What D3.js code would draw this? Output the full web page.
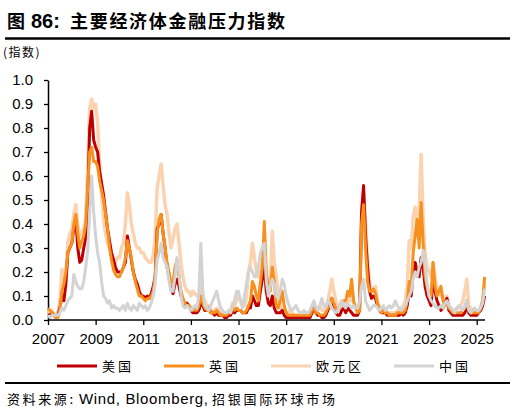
<!DOCTYPE html>
<html>
<head>
<meta charset="utf-8">
<script src="https://cdn.jsdelivr.net/npm/d3@7"></script>
<style>
  body { margin: 0; background: #fff; }
  svg { display: block; }
  .tick text { font-family: "Liberation Sans", Arial, sans-serif; font-size: 15px; fill: #000; }
  .cjk { font-family: "Noto Sans CJK SC", sans-serif; }
  .latin { font-family: "Liberation Sans", Arial, sans-serif; }
</style>
</head>
<body>
<svg id="chart" width="516" height="416"></svg>
<script>
// monthly readings, Jan 2007 .. May 2025
const startYear = 2007;
const seriesNames = ["美国", "英国", "欧元区", "中国"];
const seriesColors = ["#c00000", "#f7901e", "#fbd3b0", "#d3d3d3"];
const xTicks = [2007, 2009, 2011, 2013, 2015, 2017, 2019, 2021, 2023, 2025];
const yTicks = [0, 0.1, 0.2, 0.3, 0.4, 0.5, 0.6, 0.7, 0.8, 0.9, 1.0];

const usValues = [
  0.02,0.02,0.03,0.02,0.01,0.02,0.05,0.10,0.08,0.15,0.28,0.30,
  0.32,0.38,0.42,0.30,0.24,0.25,0.30,0.34,0.50,0.80,0.87,0.75,
  0.72,0.70,0.62,0.57,0.52,0.45,0.38,0.33,0.28,0.25,0.22,0.20,
  0.20,0.20,0.22,0.24,0.35,0.30,0.25,0.20,0.17,0.15,0.12,0.10,
  0.10,0.09,0.10,0.09,0.11,0.14,0.18,0.38,0.40,0.44,0.36,0.30,
  0.22,0.18,0.13,0.11,0.15,0.17,0.14,0.10,0.08,0.06,0.07,0.06,
  0.04,0.03,0.03,0.03,0.04,0.07,0.06,0.04,0.04,0.05,0.03,0.03,
  0.02,0.03,0.02,0.02,0.02,0.01,0.01,0.02,0.02,0.04,0.03,0.04,
  0.04,0.04,0.03,0.03,0.03,0.05,0.05,0.10,0.08,0.06,0.06,0.12,
  0.17,0.22,0.12,0.07,0.06,0.10,0.05,0.03,0.03,0.03,0.04,0.02,
  0.01,0.01,0.01,0.01,0.01,0.01,0.01,0.01,0.01,0.01,0.01,0.01,
  0.01,0.03,0.05,0.03,0.02,0.02,0.01,0.01,0.02,0.04,0.06,0.09,
  0.06,0.03,0.02,0.02,0.04,0.05,0.03,0.05,0.04,0.03,0.02,0.02,
  0.02,0.04,0.45,0.56,0.35,0.22,0.12,0.09,0.10,0.09,0.06,0.04,
  0.03,0.03,0.03,0.02,0.02,0.02,0.02,0.02,0.02,0.02,0.03,0.02,
  0.03,0.06,0.12,0.10,0.20,0.24,0.20,0.18,0.26,0.22,0.14,0.10,
  0.08,0.06,0.18,0.12,0.08,0.06,0.04,0.05,0.07,0.09,0.04,0.03,
  0.02,0.02,0.02,0.02,0.02,0.02,0.03,0.06,0.03,0.02,0.02,0.02,
  0.02,0.03,0.04,0.06,0.10
];

const ukValues = [
  0.05,0.04,0.03,0.02,0.01,0.01,0.04,0.12,0.15,0.20,0.28,0.30,
  0.32,0.40,0.44,0.36,0.30,0.33,0.35,0.40,0.55,0.70,0.72,0.66,
  0.66,0.64,0.58,0.54,0.50,0.44,0.38,0.30,0.25,0.21,0.19,0.18,
  0.18,0.20,0.22,0.26,0.33,0.30,0.26,0.20,0.16,0.13,0.10,0.10,
  0.09,0.08,0.09,0.09,0.10,0.12,0.18,0.36,0.42,0.44,0.36,0.30,
  0.24,0.20,0.15,0.16,0.22,0.25,0.18,0.12,0.09,0.07,0.06,0.06,
  0.05,0.04,0.05,0.04,0.06,0.10,0.07,0.05,0.04,0.04,0.03,0.03,
  0.03,0.04,0.03,0.02,0.02,0.02,0.02,0.03,0.03,0.05,0.04,0.05,
  0.04,0.04,0.03,0.03,0.04,0.06,0.08,0.16,0.14,0.10,0.08,0.16,
  0.22,0.41,0.20,0.14,0.12,0.22,0.16,0.06,0.05,0.08,0.12,0.06,
  0.03,0.02,0.02,0.02,0.02,0.02,0.02,0.02,0.02,0.02,0.02,0.02,
  0.02,0.04,0.05,0.03,0.03,0.02,0.02,0.02,0.03,0.05,0.06,0.09,
  0.07,0.05,0.04,0.06,0.07,0.08,0.08,0.12,0.10,0.17,0.08,0.05,
  0.03,0.04,0.40,0.48,0.30,0.16,0.12,0.12,0.13,0.11,0.07,0.05,
  0.03,0.04,0.03,0.03,0.02,0.02,0.02,0.02,0.03,0.03,0.03,0.03,
  0.04,0.08,0.16,0.14,0.28,0.35,0.42,0.30,0.49,0.32,0.18,0.14,
  0.10,0.10,0.24,0.14,0.10,0.12,0.14,0.08,0.06,0.07,0.05,0.04,
  0.03,0.03,0.03,0.03,0.03,0.04,0.05,0.08,0.04,0.03,0.03,0.03,
  0.03,0.03,0.05,0.08,0.18
];

const euroValues = [
  0.04,0.03,0.04,0.02,0.02,0.03,0.08,0.21,0.15,0.18,0.32,0.36,
  0.38,0.44,0.48,0.40,0.35,0.36,0.38,0.42,0.62,0.88,0.92,0.88,
  0.90,0.82,0.65,0.52,0.42,0.36,0.32,0.30,0.28,0.25,0.24,0.26,
  0.26,0.30,0.32,0.40,0.53,0.48,0.40,0.36,0.32,0.30,0.30,0.28,
  0.28,0.26,0.25,0.24,0.24,0.27,0.35,0.55,0.60,0.65,0.56,0.48,
  0.44,0.36,0.30,0.34,0.38,0.40,0.32,0.24,0.18,0.14,0.12,0.12,
  0.10,0.12,0.11,0.10,0.10,0.14,0.10,0.08,0.06,0.06,0.04,0.04,
  0.04,0.05,0.04,0.03,0.03,0.02,0.02,0.03,0.04,0.07,0.06,0.08,
  0.10,0.08,0.06,0.06,0.10,0.20,0.24,0.32,0.26,0.20,0.18,0.20,
  0.24,0.26,0.12,0.10,0.16,0.37,0.24,0.18,0.12,0.06,0.04,0.03,
  0.03,0.03,0.04,0.03,0.02,0.02,0.02,0.02,0.02,0.02,0.02,0.02,
  0.02,0.03,0.04,0.03,0.05,0.06,0.04,0.04,0.05,0.08,0.12,0.17,
  0.12,0.08,0.06,0.05,0.08,0.06,0.08,0.10,0.08,0.12,0.06,0.05,
  0.04,0.06,0.45,0.53,0.40,0.25,0.16,0.12,0.12,0.14,0.08,0.05,
  0.04,0.04,0.04,0.03,0.03,0.03,0.03,0.03,0.04,0.04,0.05,0.06,
  0.08,0.14,0.33,0.30,0.43,0.47,0.40,0.45,0.69,0.42,0.28,0.22,
  0.20,0.18,0.24,0.18,0.13,0.12,0.10,0.10,0.08,0.10,0.06,0.05,
  0.04,0.04,0.05,0.05,0.06,0.08,0.12,0.17,0.06,0.05,0.04,0.04,
  0.03,0.04,0.05,0.08,0.15
];

const chinaValues = [
  0.02,0.01,0.02,0.02,0.02,0.02,0.03,0.05,0.04,0.06,0.08,0.09,
  0.10,0.19,0.16,0.14,0.13,0.13,0.16,0.22,0.29,0.45,0.60,0.45,
  0.35,0.28,0.24,0.16,0.10,0.09,0.07,0.08,0.05,0.06,0.05,0.05,
  0.04,0.05,0.06,0.04,0.07,0.05,0.04,0.06,0.05,0.04,0.07,0.06,
  0.05,0.06,0.04,0.05,0.07,0.10,0.15,0.25,0.28,0.32,0.26,0.24,
  0.22,0.16,0.12,0.12,0.18,0.26,0.20,0.10,0.06,0.05,0.06,0.05,
  0.04,0.05,0.06,0.05,0.10,0.32,0.12,0.06,0.05,0.04,0.06,0.08,
  0.10,0.12,0.08,0.05,0.04,0.03,0.03,0.04,0.03,0.06,0.08,0.12,
  0.12,0.08,0.05,0.10,0.15,0.20,0.22,0.20,0.18,0.18,0.22,0.28,
  0.30,0.32,0.16,0.10,0.14,0.17,0.15,0.10,0.09,0.12,0.17,0.15,
  0.10,0.07,0.05,0.04,0.05,0.06,0.04,0.03,0.03,0.04,0.03,0.03,
  0.04,0.06,0.08,0.05,0.04,0.06,0.09,0.06,0.05,0.08,0.07,0.05,
  0.04,0.03,0.04,0.06,0.08,0.06,0.05,0.07,0.06,0.05,0.06,0.05,
  0.05,0.08,0.14,0.17,0.08,0.06,0.04,0.05,0.06,0.06,0.05,0.04,
  0.05,0.06,0.04,0.05,0.06,0.05,0.06,0.08,0.06,0.05,0.04,0.05,
  0.06,0.08,0.10,0.12,0.17,0.20,0.18,0.22,0.24,0.29,0.23,0.15,
  0.10,0.08,0.07,0.06,0.05,0.05,0.06,0.05,0.07,0.08,0.06,0.05,
  0.04,0.03,0.05,0.06,0.05,0.04,0.06,0.08,0.04,0.03,0.04,0.05,
  0.04,0.04,0.05,0.07,0.13
];

const allSeries = [usValues, ukValues, euroValues, chinaValues];
// euro drawn first so it sits underneath, China last
const drawOrder = [2, 0, 1, 3];

function createChart() {
  const svg = d3.select("#chart");
  const left = 48;
  const right = 485;
  const top = 80;
  const bottom = 320;

  // title: CJK parts spaced out, number in Arial
  const title = svg.append("text")
    .attr("y", 28)
    .attr("font-weight", "bold");
  title.append("tspan")
    .attr("class", "cjk")
    .attr("x", 7)
    .attr("font-size", 18)
    .text("图");
  title.append("tspan")
    .attr("class", "latin")
    .attr("x", 31)
    .attr("font-size", 20)
    .text("86:");
  title.append("tspan")
    .attr("class", "cjk")
    .attr("x", 70)
    .attr("font-size", 18)
    .attr("textLength", 215)
    .attr("lengthAdjust", "spacing")
    .text("主要经济体金融压力指数");

  svg.append("line")
    .attr("x1", 5).attr("x2", 510)
    .attr("y1", 38.5).attr("y2", 38.5)
    .attr("stroke", "#000").attr("stroke-width", 2.5);
  svg.append("text")
    .attr("class", "cjk")
    .attr("x", 3)
    .attr("y", 57)
    .attr("font-size", 12)
    .attr("letter-spacing", 1.5)
    .text("(指数)");

  const xScale = d3.scaleLinear()
    .domain([2007, 2025])
    .range([left, 476.7]);
  const yScale = d3.scaleLinear()
    .domain([0, 1])
    .range([bottom, top]);

  const xAxis = d3.axisBottom(xScale)
    .tickValues(xTicks)
    .tickFormat(d3.format("d"))
    .tickSize(5)
    .tickSizeOuter(0);
  const gx = svg.append("g")
    .attr("transform", "translate(0," + bottom + ")")
    .call(xAxis);
  gx.select(".domain").remove();
  gx.selectAll(".tick line").attr("stroke", "#000").attr("stroke-width", 1.3);
  gx.selectAll(".tick text").attr("dy", "1.05em");

  const yAxis = d3.axisLeft(yScale)
    .tickValues(yTicks)
    .tickFormat(d3.format(".1f"))
    .tickSize(4)
    .tickSizeOuter(0);
  const gy = svg.append("g")
    .attr("transform", "translate(" + left + ",0)")
    .call(yAxis);
  gy.select(".domain").attr("stroke", "#000").attr("stroke-width", 1.5);
  gy.selectAll(".tick line").attr("stroke", "#000").attr("stroke-width", 1.3);
  gy.selectAll(".tick text").attr("x", -15);

  const line = d3.line()
    .x((d, i) => xScale(startYear + i / 12))
    .y((d) => yScale(d));

  drawOrder.forEach((k) => {
    svg.append("path")
      .datum(allSeries[k])
      .attr("fill", "none")
      .attr("stroke", seriesColors[k])
      .attr("stroke-width", k === 2 ? 3.5 : 3)
      .attr("stroke-linejoin", "round")
      .attr("d", line);
  });

  // x axis line over the series
  svg.append("line")
    .attr("x1", left).attr("x2", right)
    .attr("y1", bottom).attr("y2", bottom)
    .attr("stroke", "#000").attr("stroke-width", 1.5);

  // legend
  const legendX = [57, 164, 271, 394];
  const legend = svg.append("g").attr("class", "legend");
  seriesNames.forEach((name, k) => {
    legend.append("line")
      .attr("x1", legendX[k]).attr("x2", legendX[k] + 40)
      .attr("y1", 366).attr("y2", 366)
      .attr("stroke", seriesColors[k])
      .attr("stroke-width", 3);
    legend.append("text")
      .attr("class", "cjk")
      .attr("x", legendX[k] + 45)
      .attr("y", 371)
      .attr("font-size", 13)
      .attr("letter-spacing", 3)
      .text(name);
  });

  svg.append("line")
    .attr("x1", 5).attr("x2", 510)
    .attr("y1", 383).attr("y2", 383)
    .attr("stroke", "#000").attr("stroke-width", 2);

  const source = svg.append("text").attr("y", 404);
  source.append("tspan")
    .attr("class", "cjk")
    .attr("x", 7)
    .attr("font-size", 13)
    .attr("textLength", 66)
    .attr("lengthAdjust", "spacing")
    .text("资料来源:");
  source.append("tspan")
    .attr("class", "latin")
    .attr("x", 79)
    .attr("font-size", 15)
    .attr("textLength", 129)
    .attr("lengthAdjust", "spacing")
    .text("Wind, Bloomberg,");
  source.append("tspan")
    .attr("class", "cjk")
    .attr("x", 212)
    .attr("font-size", 13)
    .attr("textLength", 123)
    .attr("lengthAdjust", "spacing")
    .text("招银国际环球市场");
}

createChart();
</script>
</body>
</html>
